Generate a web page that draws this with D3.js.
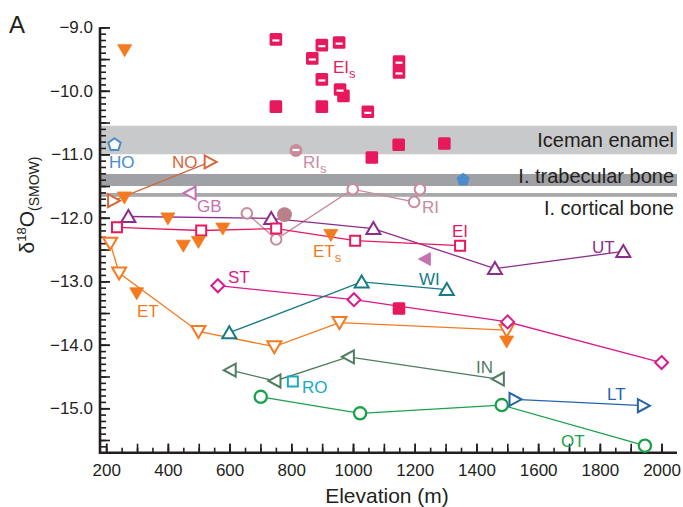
<!DOCTYPE html>
<html>
<head>
<meta charset="utf-8">
<script src="https://cdn.jsdelivr.net/npm/d3@7"></script>
<style>
body { margin: 0; background: #fff; }
text { font-family: "Liberation Sans", Arial, sans-serif; fill: #231f20; }
</style>
</head>
<body>
<script>
// elevation (m), d18O (per mil SMOW)
var EIs_dash = [[750,-9.19],[899,-9.28],[955,-9.24],[868,-9.49],[1149,-9.54],[1149,-9.71],[899,-9.82],[958,-9.98],[1048,-10.33]];
var EIs_fill = [[969,-10.08],[750,-10.25],[899,-10.25],[1148,-10.85],[1296,-10.83],[1061,-11.05],[1149,-13.43]];
var ETs_fill = [[260,-9.36],[259,-11.68],[400,-12.01],[450,-12.44],[499,-12.38],[578,-12.17],[299,-13.19],[928,-12.27],[1498,-13.95]];
var ET = [[213,-12.40],[242,-12.87],[499,-13.79],[745,-14.03],[956,-13.65],[1498,-13.77]];
var NO = [[224,-11.73],[537,-11.12]];
var HO = [[227,-10.85]];
var HO_fill = [[1357,-11.40]];
var GB = [[472,-11.61]];
var GB_fill = [[1233,-12.65]];
var UT = [[272,-11.98],[735,-12.01],[1066,-12.17],[1460,-12.80],[1876,-12.53]];
var EI = [[235,-12.15],[508,-12.20],[751,-12.17],[1007,-12.36],[1347,-12.44]];
var RI = [[656,-11.93],[751,-12.34],[999,-11.55],[1198,-11.75],[1217,-11.55]];
var RIs_dash = [[815,-10.94]];
var RI_fill = [[778,-11.95]];
var ST = [[562,-13.07],[1003,-13.29],[1501,-13.64],[2000,-14.28]];
var WI = [[599,-13.81],[1028,-13.01],[1304,-13.13]];
var IN = [[602,-14.40],[747,-14.57],[985,-14.19],[1471,-14.54]];
var RO = [[805,-14.58]];
var OT = [[701,-14.82],[1023,-15.08],[1482,-14.95],[1946,-15.59]];
var LT = [[1525,-14.86],[1941,-14.96]];

// Iceman reference ranges
var bands = [
  {name: "Iceman enamel", lo: -11.0, hi: -10.55, color: "#c8c9cb"},
  {name: "I. trabecular bone", lo: -11.5, hi: -11.31, color: "#a0a1a4"},
  {name: "I. cortical bone", lo: -11.67, hi: -11.61, color: "#a8a9ab"}
];
var bandLabelY = [147, 183, 215];

var xTicks = [200, 400, 600, 800, 1000, 1200, 1400, 1600, 1800, 2000];
var yTicks = [-9, -10, -11, -12, -13, -14, -15];

var svg = d3.select("body").append("svg")
  .attr("width", 683).attr("height", 507);

var x = d3.scaleLinear().domain([180, 2050]).range([100, 677]);
var y = d3.scaleLinear().domain([-9, -15.7]).range([27.3, 452.7]);

// bands
svg.selectAll("rect.band").data(bands).enter().append("rect")
  .attr("x", x(180)).attr("width", x(2050) - x(180))
  .attr("y", function(d) { return y(d.hi); })
  .attr("height", function(d) { return y(d.lo) - y(d.hi); })
  .attr("fill", function(d) { return d.color; });
svg.selectAll("text.band").data(bands).enter().append("text")
  .attr("x", 674).attr("y", function(d, i) { return bandLabelY[i]; })
  .attr("text-anchor", "end").attr("font-size", 20)
  .text(function(d) { return d.name; });

// axes, ticks inward
var axisCol = "#231f20";
function xAxis(step, len, labels) {
  var g = svg.append("g").attr("transform", "translate(0," + y(-15.7) + ")")
    .call(d3.axisBottom(x).tickValues(d3.range(200, 2001, step)).tickSizeInner(-len).tickSizeOuter(0)
      .tickFormat(labels ? d3.format("d") : ""));
  g.select(".domain").remove();
  g.selectAll(".tick line").attr("stroke", axisCol).attr("stroke-width", 1.6);
  g.selectAll(".tick text").attr("font-size", 17).attr("fill", axisCol).attr("y", 11)
    .attr("font-family", "Liberation Sans, Arial, sans-serif");
}
xAxis(50, 5, false);
xAxis(100, 9, false);
xAxis(200, 9, true);

function yAxis(vals, len, labels) {
  var g = svg.append("g").attr("transform", "translate(" + x(180) + ",0)")
    .call(d3.axisLeft(y).tickValues(vals).tickSizeInner(-len).tickSizeOuter(0)
      .tickFormat(labels ? d3.format(".1f") : ""));
  g.select(".domain").remove();
  g.selectAll(".tick line").attr("stroke", axisCol).attr("stroke-width", 1.6);
  g.selectAll(".tick text").attr("font-size", 17).attr("fill", axisCol).attr("x", -7)
    .attr("font-family", "Liberation Sans, Arial, sans-serif");
}
yAxis(d3.range(0, 67).map(function(i) { return -9 - i / 10; }), 6, false);
yAxis(d3.range(0, 14).map(function(i) { return -9 - i / 2; }), 10, false);
yAxis(yTicks, 10, true);

svg.append("path")
  .attr("d", "M" + x(180) + "," + y(-9) + "V" + y(-15.7) + "H" + x(2050))
  .attr("fill", "none").attr("stroke", axisCol).attr("stroke-width", 2.6);

// shapes
var shapes = {
  down: "M-7,-5.5L7,-5.5L0,6.5Z",
  up: "M-7,5.5L7,5.5L0,-6.5Z",
  left: "M5.5,-6.5L5.5,6.5L-6.5,0Z",
  right: "M-5.5,-6.5L-5.5,6.5L6.5,0Z",
  square: "M-5,-5H5V5H-5Z",
  diamond: "M0,-6.5L6.5,0L0,6.5L-6.5,0Z",
  circle: "M5.3,0A5.3,5.3 0 1,1 -5.3,0A5.3,5.3 0 1,1 5.3,0Z",
  pentagon: d3.range(5).map(function(i) {
    var a = -Math.PI / 2 + i * 2 * Math.PI / 5;
    return (i ? "L" : "M") + (6.5 * Math.cos(a)).toFixed(2) + "," + (6.5 * Math.sin(a)).toFixed(2);
  }).join("") + "Z"
};

function line(data, color) {
  svg.append("path").datum(data)
    .attr("d", d3.line().x(function(d) { return x(d[0]); }).y(function(d) { return y(d[1]); }))
    .attr("fill", "none").attr("stroke", color).attr("stroke-width", 1.3);
}

function marks(data, shape, color, filled, scale) {
  svg.append("g").selectAll("path").data(data).enter().append("path")
    .attr("transform", function(d) { return "translate(" + x(d[0]) + "," + y(d[1]) + ") scale(" + (scale || 1) + ")"; })
    .attr("d", shapes[shape])
    .attr("fill", filled ? color : "#fff")
    .attr("stroke", color)
    .attr("stroke-width", filled ? 0.8 : 2)
    .attr("stroke-linejoin", "miter");
}

function dashSquares(data, color, withDash) {
  var g = svg.append("g").selectAll("g").data(data).enter().append("g")
    .attr("transform", function(d) { return "translate(" + x(d[0]) + "," + y(d[1]) + ")"; });
  g.append("rect").attr("x", -6.3).attr("y", -6.3).attr("width", 12.6).attr("height", 12.6)
    .attr("rx", 1.5).attr("fill", color);
  if (withDash) {
    g.append("rect").attr("x", -3.5).attr("y", 0).attr("width", 7).attr("height", 2.2).attr("fill", "#fff");
  }
}

// series lines
var C = {
  EI: "#e8185c", ET: "#f47a20", NO: "#d4683c", HO: "#4a8ccc", GB: "#c471b2",
  UT: "#8e2b8f", RI: "#c98b9b", RIf: "#b98089", ST: "#d9198e", WI: "#157b86",
  IN: "#4f7d5f", RO: "#19a9c4", OT: "#1aa24b", LT: "#2463ad"
};
line(NO, C.NO);
line(RI, C.RI);
line(UT, C.UT);
line(EI, C.EI);
line(ET, C.ET);
line(ST, C.ST);
line(WI, C.WI);
line(IN, C.IN);
line(OT, C.OT);
line(LT, C.LT);

// markers
marks(NO, "right", C.NO, false);
marks(HO, "pentagon", C.HO, false);
marks(HO_fill, "pentagon", C.HO, true);
marks(GB, "left", C.GB, false);
marks(GB_fill, "left", C.GB, true);
marks(RI, "circle", C.RI, false);
marks(RI_fill, "circle", C.RIf, true, 1.3);
marks(UT, "up", C.UT, false);
marks(EI, "square", C.EI, false);
marks(ET, "down", C.ET, false);
marks(ETs_fill, "down", C.ET, true);
marks(ST, "diamond", C.ST, false);
marks(WI, "up", C.WI, false);
marks(IN, "left", C.IN, false);
marks(RO, "square", C.RO, false);
marks(OT, "circle", C.OT, false, 1.15);
marks(LT, "right", C.LT, false);
dashSquares(EIs_fill, C.EI, false);
dashSquares(EIs_dash, C.EI, true);

// RIs: filled circle with white dash
var ris = svg.append("g").selectAll("g").data(RIs_dash).enter().append("g")
  .attr("transform", function(d) { return "translate(" + x(d[0]) + "," + y(d[1]) + ")"; });
ris.append("circle").attr("r", 6.5).attr("fill", C.RI);
ris.append("rect").attr("x", -3.5).attr("y", -1.6).attr("width", 7).attr("height", 2.2).attr("fill", "#fff");

// series labels
var labels = [
  {t: "HO", x: 109, y: 168, c: C.HO},
  {t: "NO", x: 172, y: 168, c: C.NO},
  {t: "RI", s: "S", x: 303, y: 168, c: C.RI},
  {t: "EI", s: "S", x: 333, y: 73, c: C.EI},
  {t: "GB", x: 197, y: 212, c: C.GB},
  {t: "RI", x: 422, y: 213, c: C.RI},
  {t: "EI", x: 452, y: 237, c: C.EI},
  {t: "ET", s: "S", x: 313, y: 257, c: C.ET},
  {t: "UT", x: 592, y: 253, c: C.UT},
  {t: "ST", x: 228, y: 283, c: C.ST},
  {t: "WI", x: 419, y: 285, c: C.WI},
  {t: "ET", x: 137, y: 317, c: C.ET},
  {t: "IN", x: 476, y: 373, c: C.IN},
  {t: "RO", x: 302, y: 393, c: C.RO},
  {t: "LT", x: 607, y: 400, c: C.LT},
  {t: "OT", x: 561, y: 447, c: C.OT}
];
var lt = svg.selectAll("text.lab").data(labels).enter().append("text")
  .attr("x", function(d) { return d.x; }).attr("y", function(d) { return d.y; })
  .attr("font-size", 17).style("fill", function(d) { return d.c; })
  .text(function(d) { return d.t; });
lt.filter(function(d) { return d.s; }).append("tspan")
  .attr("dy", 5).attr("font-size", 13).text(function(d) { return d.s.toLowerCase(); });

// panel letter and axis titles
svg.append("text").attr("x", 9).attr("y", 33).attr("font-size", 24).text("A");
svg.append("text").attr("x", 387).attr("y", 503).attr("text-anchor", "middle")
  .attr("font-size", 21).text("Elevation (m)");
var yt = svg.append("text").attr("transform", "translate(34,205) rotate(-90)")
  .attr("text-anchor", "middle").attr("font-size", 21);
yt.append("tspan").text("\u03b4");
yt.append("tspan").attr("font-size", 13).attr("dy", -8).text("18");
yt.append("tspan").attr("dy", 8).text("O");
yt.append("tspan").attr("font-size", 14).attr("dy", 5).text("(SMOW)");
</script>
</body>
</html>
